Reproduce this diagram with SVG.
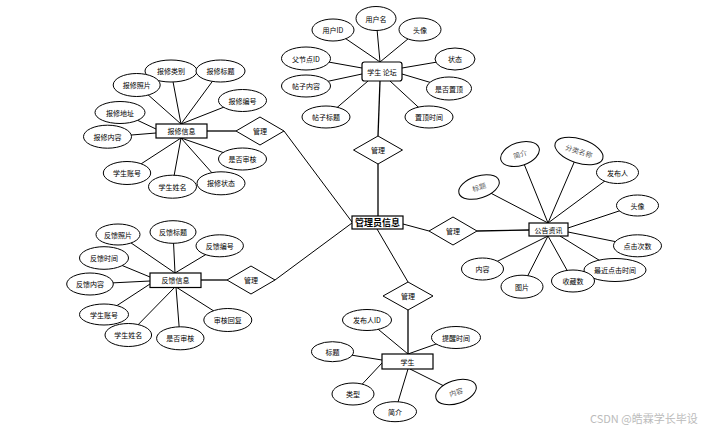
<svg xmlns="http://www.w3.org/2000/svg" width="727" height="431" viewBox="0 0 727 431">
<style>
.ln{stroke:#000;stroke-width:1;fill:none}
.lt{stroke:#000;stroke-width:1.3;fill:none}
.at{fill:#fff;stroke:#000;stroke-width:1}
.en{fill:#fff;stroke:#000;stroke-width:1.2}
.rel{fill:#fff;stroke:#000;stroke-width:1}
text{font-family:"Noto Sans CJK SC","Noto Sans",sans-serif;font-size:7px;fill:#000;text-anchor:middle;dominant-baseline:central}
.g{fill:#555}
.big{font-size:9px;font-weight:bold}
.wm{font-size:11px;fill:#bbb;text-anchor:start}
</style>
<rect width="727" height="431" fill="#fff"/>
<g id="connectors">
<!-- 学生论坛 -->
<line class="ln" x1="333" y1="30" x2="380" y2="62"/>
<line class="ln" x1="376" y1="18" x2="380" y2="62"/>
<line class="ln" x1="420" y1="29" x2="380" y2="62"/>
<line class="ln" x1="306" y1="58" x2="362" y2="68"/>
<line class="ln" x1="306" y1="86" x2="362" y2="74"/>
<line class="ln" x1="326" y1="117" x2="368" y2="81"/>
<line class="ln" x1="455" y1="59" x2="402" y2="68"/>
<line class="ln" x1="449" y1="88" x2="402" y2="74"/>
<line class="ln" x1="429" y1="117" x2="390" y2="81"/>
<line class="lt" x1="380" y1="81" x2="378" y2="136"/>
<!-- 报修信息 -->
<line class="ln" x1="171" y1="71" x2="181" y2="124"/>
<line class="ln" x1="220" y1="71" x2="181" y2="124"/>
<line class="ln" x1="137" y1="85" x2="181" y2="124"/>
<line class="ln" x1="242" y1="100" x2="181" y2="124"/>
<line class="ln" x1="120" y1="112" x2="156" y2="129"/>
<line class="ln" x1="107" y1="137" x2="156" y2="133"/>
<line class="ln" x1="242" y1="159" x2="181" y2="138"/>
<line class="ln" x1="127" y1="173" x2="181" y2="138"/>
<line class="ln" x1="172" y1="187" x2="181" y2="138"/>
<line class="ln" x1="221" y1="183" x2="181" y2="138"/>
<line class="lt" x1="207" y1="131" x2="236" y2="131"/>
<line class="ln" x1="284" y1="131" x2="352" y2="222"/>
<!-- 反馈信息 -->
<line class="ln" x1="118" y1="234" x2="175" y2="273"/>
<line class="ln" x1="173" y1="232" x2="175" y2="273"/>
<line class="ln" x1="220" y1="246" x2="175" y2="273"/>
<line class="ln" x1="104" y1="258" x2="150" y2="277"/>
<line class="ln" x1="90" y1="284" x2="150" y2="281"/>
<line class="ln" x1="104" y1="314" x2="150" y2="284"/>
<line class="ln" x1="128" y1="335" x2="175" y2="287"/>
<line class="ln" x1="180" y1="338" x2="176" y2="287"/>
<line class="ln" x1="228" y1="320" x2="176" y2="287"/>
<line class="lt" x1="201" y1="280" x2="227" y2="280"/>
<line class="ln" x1="275" y1="280" x2="352" y2="223"/>
<!-- 公告资讯 -->
<line class="ln" x1="479" y1="187" x2="548" y2="223"/>
<line class="ln" x1="520" y1="154" x2="548" y2="223"/>
<line class="ln" x1="579" y1="151" x2="548" y2="223"/>
<line class="ln" x1="617" y1="172" x2="548" y2="223"/>
<line class="ln" x1="637" y1="205" x2="568" y2="228"/>
<line class="ln" x1="637" y1="246" x2="568" y2="232"/>
<line class="ln" x1="615" y1="270" x2="560" y2="236"/>
<line class="ln" x1="573" y1="281" x2="548" y2="236"/>
<line class="ln" x1="522" y1="287" x2="548" y2="236"/>
<line class="ln" x1="482" y1="269" x2="548" y2="236"/>
<line class="lt" x1="477" y1="231" x2="529" y2="230"/>
<line class="ln" x1="403" y1="224" x2="429" y2="231"/>
<!-- 学生 -->
<line class="ln" x1="367" y1="320" x2="408" y2="354"/>
<line class="ln" x1="456" y1="337" x2="408" y2="354"/>
<line class="ln" x1="332" y1="352" x2="382" y2="360"/>
<line class="ln" x1="353" y1="394" x2="382" y2="363"/>
<line class="ln" x1="395" y1="412" x2="408" y2="369"/>
<line class="ln" x1="456" y1="392" x2="410" y2="369"/>
<line class="lt" x1="408" y1="310" x2="408" y2="354"/>
<line class="ln" x1="408" y1="282" x2="377" y2="229"/>
<!-- 中心 -->
<line class="lt" x1="378" y1="164" x2="378" y2="216"/>
</g>

<g id="forum">
<rect class="en" x="362" y="62" width="40" height="19" rx="2.5"/>
<text x="382" y="71.5">学生 论坛</text>
</g>
<g id="forum-attrs">
<ellipse class="at" cx="333" cy="30" rx="21" ry="11"/><text x="333" y="30">用户ID</text>
<ellipse class="at" cx="376" cy="18.5" rx="20" ry="12"/><text x="376" y="18.5">用户名</text>
<ellipse class="at" cx="420" cy="29.5" rx="21" ry="11.5"/><text x="420" y="29.5">头像</text>
<ellipse class="at" cx="306" cy="58.5" rx="24.5" ry="11.5"/><text x="306" y="58.5">父节点ID</text>
<ellipse class="at" cx="455" cy="59" rx="20" ry="11"/><text x="455" y="59">状态</text>
<ellipse class="at" cx="306" cy="86" rx="24.5" ry="11"/><text x="306" y="86">帖子内容</text>
<ellipse class="at" cx="449" cy="88.5" rx="22.5" ry="11.5"/><text x="449" y="88.5">是否置顶</text>
<ellipse class="at" cx="326" cy="117" rx="24" ry="11"/><text x="326" y="117">帖子标题</text>
<ellipse class="at" cx="429" cy="117" rx="24" ry="11"/><text x="429" y="117">置顶时间</text>
</g>

<g id="repair">
<rect class="en" x="156" y="124" width="51" height="14"/>
<text x="181.5" y="131">报修信息</text>
</g>
<g id="repair-attrs">
<ellipse class="at" cx="171" cy="71" rx="26" ry="11"/><text x="171" y="71">报修类别</text>
<ellipse class="at" cx="220.5" cy="71" rx="24.5" ry="11"/><text x="220.5" y="71">报修标题</text>
<ellipse class="at" cx="136.7" cy="85" rx="23.5" ry="11.5"/><text x="136.7" y="85">报修照片</text>
<ellipse class="at" cx="242.5" cy="100.5" rx="24" ry="11"/><text x="242.5" y="100.5">报修编号</text>
<ellipse class="at" cx="120" cy="112.5" rx="25" ry="11"/><text x="120" y="112.5">报修地址</text>
<ellipse class="at" cx="107.5" cy="136.7" rx="24" ry="11.5"/><text x="107.5" y="136.7">报修内容</text>
<ellipse class="at" cx="242.5" cy="159" rx="24" ry="11"/><text x="242.5" y="159">是否审核</text>
<ellipse class="at" cx="127" cy="173" rx="23.7" ry="11.5"/><text x="127" y="173">学生账号</text>
<ellipse class="at" cx="172.5" cy="186.7" rx="24" ry="11.5"/><text x="172.5" y="186.7">学生姓名</text>
<ellipse class="at" cx="221" cy="183.3" rx="24" ry="11.5"/><text x="221" y="183.3">报修状态</text>
</g>

<g id="feedback">
<rect class="en" x="150" y="273" width="51" height="14.5"/>
<text x="175.5" y="280.2">反馈信息</text>
</g>
<g id="feedback-attrs">
<ellipse class="at" cx="118" cy="234.5" rx="22" ry="10.5"/><text x="118" y="234.5">反馈照片</text>
<ellipse class="at" cx="173" cy="232" rx="23" ry="11.3"/><text x="173" y="232">反馈标题</text>
<ellipse class="at" cx="219.7" cy="245.8" rx="23.7" ry="11"/><text x="219.7" y="245.8">反馈编号</text>
<ellipse class="at" cx="104" cy="258" rx="24.5" ry="11.3"/><text x="104" y="258">反馈时间</text>
<ellipse class="at" cx="90" cy="284" rx="23.3" ry="11"/><text x="90" y="284">反馈内容</text>
<ellipse class="at" cx="104" cy="314.5" rx="24.5" ry="10.5"/><text x="104" y="314.5">学生账号</text>
<ellipse class="at" cx="128.3" cy="335" rx="23.3" ry="11.5"/><text x="128.3" y="335">学生姓名</text>
<ellipse class="at" cx="180.3" cy="338.3" rx="23.7" ry="11.5"/><text x="180.3" y="338.3">是否审核</text>
<ellipse class="at" cx="227.8" cy="320" rx="24" ry="11.5"/><text x="227.8" y="320">审核回复</text>
</g>

<g id="notice">
<rect class="en" x="529" y="223" width="39" height="13"/>
<text x="548.5" y="229.5">公告资讯</text>
</g>
<g id="notice-attrs">
<g transform="rotate(-18 520 154)"><ellipse class="at" cx="520" cy="154" rx="20" ry="11.5"/><text class="g" x="520" y="154">简介</text></g>
<g transform="rotate(18 579 151)"><ellipse class="at" cx="579" cy="151" rx="25" ry="12"/><text class="g" x="579" y="151">分类名称</text></g>
<g transform="rotate(-18 479 187)"><ellipse class="at" cx="479" cy="187" rx="21" ry="11"/><text class="g" x="479" y="187">标题</text></g>
<ellipse class="at" cx="617.5" cy="172.5" rx="21" ry="11"/><text x="617.5" y="172.5">发布人</text>
<ellipse class="at" cx="637.5" cy="205.5" rx="21" ry="10.5"/><text x="637.5" y="205.5">头像</text>
<ellipse class="at" cx="637.5" cy="245.8" rx="24" ry="11"/><text x="637.5" y="245.8">点击次数</text>
<ellipse class="at" cx="615" cy="270" rx="31" ry="11.5"/><text x="615" y="270">最近点击时间</text>
<ellipse class="at" cx="573" cy="281" rx="21.5" ry="11"/><text x="573" y="281">收藏数</text>
<ellipse class="at" cx="522" cy="286.7" rx="21" ry="11.5"/><text x="522" y="286.7">图片</text>
<ellipse class="at" cx="482.5" cy="269" rx="21" ry="11"/><text x="482.5" y="269">内容</text>
</g>

<g id="student">
<rect class="en" x="382" y="354" width="51" height="15"/>
<text x="407.5" y="361.5">学生</text>
</g>
<g id="student-attrs">
<ellipse class="at" cx="367" cy="320" rx="24.5" ry="10.5"/><text x="367" y="320">发布人ID</text>
<ellipse class="at" cx="456" cy="337.5" rx="24.5" ry="11"/><text x="456" y="337.5">提醒时间</text>
<ellipse class="at" cx="332.5" cy="351.7" rx="21" ry="10"/><text x="332.5" y="351.7">标题</text>
<ellipse class="at" cx="353" cy="394" rx="21" ry="11"/><text x="353" y="394">类型</text>
<ellipse class="at" cx="395" cy="411.7" rx="21.5" ry="10"/><text x="395" y="411.7">简介</text>
<g transform="rotate(-18 456 392)"><ellipse class="at" cx="456" cy="392" rx="21" ry="11.5"/><text class="g" x="456" y="392">内容</text></g>
</g>

<g id="admin">
<rect class="en" x="352" y="216" width="51" height="13" stroke-width="1.6"/>
<text class="big" x="377.5" y="222.5">管理员信息</text>
</g>

<g id="rel-forum"><polygon class="rel" points="378,136 402.5,150 378,164 353.5,150"/><text x="378" y="150">管理</text></g>
<g id="rel-repair"><polygon class="rel" points="260,117 284,131 260,145 236,131"/><text x="260" y="131">管理</text></g>
<g id="rel-feedback"><polygon class="rel" points="251,266 275,280 251,294 227,280"/><text x="251" y="280">管理</text></g>
<g id="rel-notice"><polygon class="rel" points="453,217 477,231 453,245 429,231"/><text x="453" y="231">管理</text></g>
<g id="rel-student"><polygon class="rel" points="408,282 433,296 408,310 383,296"/><text x="408" y="296">管理</text></g>

<text class="wm" x="590" y="418">CSDN @皓霖学长毕设</text>
</svg>
